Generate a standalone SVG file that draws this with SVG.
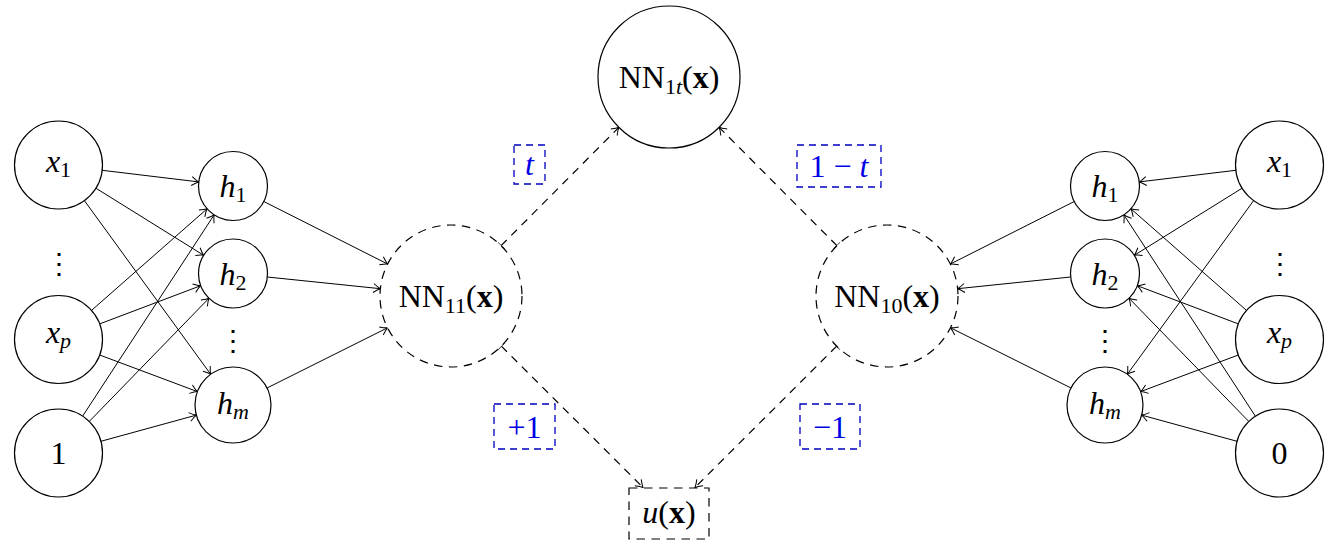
<svg xmlns="http://www.w3.org/2000/svg" width="1333" height="551" viewBox="0 0 1333 551">
<defs>
<style>
.nd{fill:#fff;stroke:#000;stroke-width:1.2}
.dn{fill:#fff;stroke:#000;stroke-width:1.2;stroke-dasharray:8.5 6.5}
.e{fill:none;stroke:#000;stroke-width:1}
.de{fill:none;stroke:#000;stroke-width:1.2;stroke-dasharray:8 6.5}
.lb{fill:none;stroke:#0000c0;stroke-width:1.3;stroke-dasharray:7 5}
.t{font-family:"Liberation Serif","DejaVu Serif",serif;font-size:32px;fill:#000;text-anchor:middle}
.bl{fill:#0000e6}
.i{font-style:italic}
.s{font-size:22px}
.b{font-weight:bold}
.dots{font-family:"DejaVu Serif",serif;font-size:28px;fill:#000;text-anchor:middle}
</style>
<marker id="ar" markerUnits="userSpaceOnUse" viewBox="-10 -6 12 12" refX="0" refY="0" markerWidth="12" markerHeight="12" orient="auto">
<path d="M-7,-4.5 Q-2.5,-1 0,0 Q-2.5,1 -7,4.5" fill="none" stroke="#000" stroke-width="1"/>
</marker>
<marker id="bar" markerUnits="userSpaceOnUse" viewBox="-6 -6 12 12" refX="0" refY="0" markerWidth="12" markerHeight="12" orient="auto">
<path d="M0,-4.5 L0,4.5" fill="none" stroke="#000" stroke-width="1"/>
</marker>
</defs>
<rect width="1333" height="551" fill="#fff"/>

<g id="connectors">
<path class="e" marker-end="url(#ar)" d="M102.2,170.3L198.7,181.9"/>
<path class="e" marker-end="url(#ar)" d="M95.9,188.2L203.7,255.3"/>
<path class="e" marker-end="url(#ar)" d="M84.4,200.6L210.7,374.3"/>
<path class="e" marker-end="url(#ar)" d="M91.5,310.4L207.1,208.8"/>
<path class="e" marker-end="url(#ar)" d="M99.7,323.9L200.7,285.7"/>
<path class="e" marker-end="url(#ar)" d="M99.7,355L197.4,391.6"/>
<path class="e" marker-end="url(#ar)" d="M82.6,416.2L214.1,214.9"/>
<path class="e" marker-end="url(#ar)" d="M89.2,421.5L209,298.2"/>
<path class="e" marker-end="url(#ar)" d="M100.9,441.3L196.4,415.1"/>
<path class="e" marker-end="url(#ar)" d="M263.8,201.5L387.6,264"/>
<path class="e" marker-end="url(#ar)" d="M267.3,277L380.4,288.7"/>
<path class="e" marker-end="url(#ar)" d="M267,388L387.5,327.8"/>
<path class="e" marker-end="url(#ar)" d="M1235.8,170.3L1139.3,181.9"/>
<path class="e" marker-end="url(#ar)" d="M1242.1,188.2L1134.3,255.3"/>
<path class="e" marker-end="url(#ar)" d="M1253.6,200.6L1127.3,374.3"/>
<path class="e" marker-end="url(#ar)" d="M1246.5,310.4L1130.9,208.8"/>
<path class="e" marker-end="url(#ar)" d="M1238.3,323.9L1137.3,285.7"/>
<path class="e" marker-end="url(#ar)" d="M1238.3,355L1140.6,391.6"/>
<path class="e" marker-end="url(#ar)" d="M1255.4,416.2L1123.9,214.9"/>
<path class="e" marker-end="url(#ar)" d="M1248.8,421.5L1129,298.2"/>
<path class="e" marker-end="url(#ar)" d="M1237.1,441.3L1141.6,415.1"/>
<path class="e" marker-end="url(#ar)" d="M1074.2,201.5L950.4,264"/>
<path class="e" marker-end="url(#ar)" d="M1070.7,277L957.6,288.7"/>
<path class="e" marker-end="url(#ar)" d="M1071,388L950.5,327.8"/>
<path class="de" marker-start="url(#bar)" marker-end="url(#ar)" d="M501.1,245.7L618.9,127.3"/>
<path class="de" marker-start="url(#bar)" marker-end="url(#ar)" d="M836.9,245.7L719.1,127.3"/>
<path class="de" marker-start="url(#bar)" marker-end="url(#ar)" d="M501.3,346.1L643,487.5"/>
<path class="de" marker-start="url(#bar)" marker-end="url(#ar)" d="M836.7,346.1L695,487.5"/>
</g>

<g id="lx1"><circle class="nd" cx="58.5" cy="165" r="44"/><text class="t" x="58.5" y="172"><tspan class="i">x</tspan><tspan class="s" dy="5">1</tspan></text></g>
<g id="ldots"><text class="dots" x="58.5" y="273">⋮</text></g>
<g id="lxp"><circle class="nd" cx="58.5" cy="339.5" r="44"/><text class="t" x="58.5" y="343"><tspan class="i">x</tspan><tspan class="s i" dy="5">p</tspan></text></g>
<g id="l1"><circle class="nd" cx="58.5" cy="453" r="44"/><text class="t" x="58.5" y="464">1</text></g>
<g id="lh1"><circle class="nd" cx="233" cy="186" r="34.5"/><text class="t" x="233" y="197"><tspan class="i">h</tspan><tspan class="s" dy="5">1</tspan></text></g>
<g id="lh2"><circle class="nd" cx="233" cy="273.5" r="34.5"/><text class="t" x="233" y="284.5"><tspan class="i">h</tspan><tspan class="s" dy="5">2</tspan></text></g>
<g id="lhdots"><text class="dots" x="233" y="350">⋮</text></g>
<g id="lhm"><circle class="nd" cx="233" cy="405" r="38"/><text class="t" x="233" y="414"><tspan class="i">h</tspan><tspan class="s i" dy="5">m</tspan></text></g>

<g id="nn11"><circle class="dn" cx="451" cy="296" r="71"/><text class="t" x="451" y="307">NN<tspan class="s" dy="6">11</tspan><tspan dy="-6">(</tspan><tspan class="b">x</tspan>)</text></g>
<g id="nn1t"><circle class="nd" cx="669" cy="77" r="71"/><text class="t" x="669" y="88">NN<tspan class="s" dy="6">1</tspan><tspan class="s i">t</tspan><tspan dy="-6">(</tspan><tspan class="b">x</tspan>)</text></g>
<g id="nn10"><circle class="dn" cx="887" cy="296" r="71"/><text class="t" x="887" y="307">NN<tspan class="s" dy="6">10</tspan><tspan dy="-6">(</tspan><tspan class="b">x</tspan>)</text></g>
<g id="ux"><rect class="dn" x="629" y="488" width="80" height="51"/><text class="t" x="669" y="523"><tspan class="i">u</tspan>(<tspan class="b">x</tspan>)</text></g>

<g id="lab_t"><rect class="lb" x="514" y="145" width="31" height="39"/><text class="t bl i" x="529.5" y="175">t</text></g>
<g id="lab_1mt"><rect class="lb" x="797" y="145" width="84" height="42"/><text class="t bl" x="839" y="177">1 − <tspan class="i">t</tspan></text></g>
<g id="lab_p1"><rect class="lb" x="494" y="404" width="61" height="45"/><text class="t bl" x="524.5" y="438">+1</text></g>
<g id="lab_m1"><rect class="lb" x="800" y="404" width="60" height="45"/><text class="t bl" x="830" y="438">−1</text></g>

<g id="rh1"><circle class="nd" cx="1105" cy="186" r="34.5"/><text class="t" x="1105" y="197"><tspan class="i">h</tspan><tspan class="s" dy="5">1</tspan></text></g>
<g id="rh2"><circle class="nd" cx="1105" cy="273.5" r="34.5"/><text class="t" x="1105" y="284.5"><tspan class="i">h</tspan><tspan class="s" dy="5">2</tspan></text></g>
<g id="rhdots"><text class="dots" x="1105" y="350">⋮</text></g>
<g id="rhm"><circle class="nd" cx="1105" cy="405" r="38"/><text class="t" x="1105" y="414"><tspan class="i">h</tspan><tspan class="s i" dy="5">m</tspan></text></g>
<g id="rx1"><circle class="nd" cx="1279.5" cy="165" r="44"/><text class="t" x="1279.5" y="172"><tspan class="i">x</tspan><tspan class="s" dy="5">1</tspan></text></g>
<g id="rdots"><text class="dots" x="1279.5" y="273">⋮</text></g>
<g id="rxp"><circle class="nd" cx="1279.5" cy="339.5" r="44"/><text class="t" x="1279.5" y="343"><tspan class="i">x</tspan><tspan class="s i" dy="5">p</tspan></text></g>
<g id="r0"><circle class="nd" cx="1279.5" cy="453" r="44"/><text class="t" x="1279.5" y="464">0</text></g>
</svg>
